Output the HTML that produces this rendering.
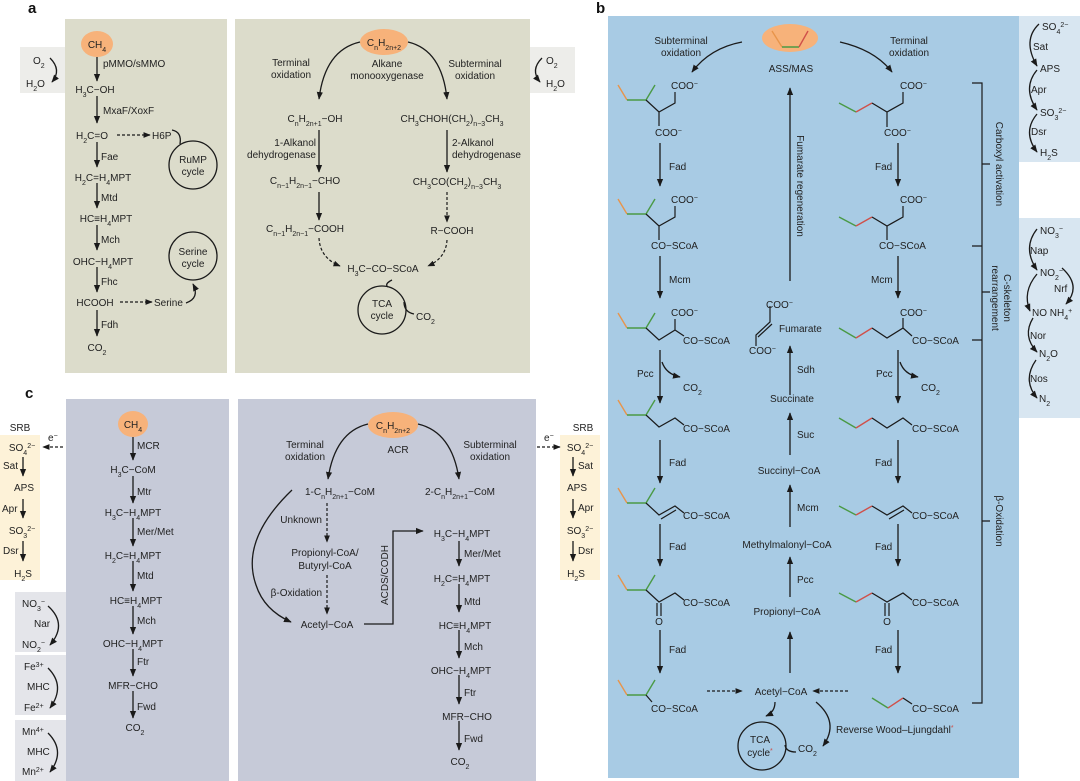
<!DOCTYPE html>
<html><head><meta charset="utf-8"><style>
html,body{margin:0;padding:0;background:#fff}
svg{display:block}
text{font-family:"Liberation Sans",Arial,sans-serif;font-size:10px;fill:#222}
.b{font-weight:bold;font-size:15px;fill:#111}
.sb{font-size:7px;baseline-shift:sub}
.sp{font-size:7px;baseline-shift:super}
.m{text-anchor:middle}
.e{text-anchor:end}
.l{stroke:#1a1a1a;stroke-width:1.3;fill:none}
.d{stroke:#1a1a1a;stroke-width:1.2;fill:none;stroke-dasharray:3,2}
.o{stroke:#e8944a;stroke-width:1.4;fill:none}
.g{stroke:#4a9a45;stroke-width:1.4;fill:none}
.r{stroke:#d0504a;stroke-width:1.4;fill:none}
.k{stroke:#1a1a1a;stroke-width:1.2;fill:none}
</style></head><body>
<svg width="1080" height="781" viewBox="0 0 1080 781" xmlns="http://www.w3.org/2000/svg">
<defs>
<marker id="a" viewBox="0 0 10 10" refX="9" refY="5" markerWidth="6" markerHeight="6" orient="auto-start-reverse"><path d="M0,1 L10,5 L0,9 z" fill="#1a1a1a"/></marker>
</defs>

<!-- PANEL A -->
<text class="b" x="28" y="13">a</text>
<rect x="20" y="47" width="45" height="46" fill="#ededea"/>
<rect x="530" y="47" width="45" height="46" fill="#ededea"/>
<rect x="65" y="19" width="162" height="354" fill="#dcdccb"/>
<rect x="235" y="19" width="295" height="354" fill="#dcdccb"/>
<text x="33" y="64">O<tspan class="sb">2</tspan></text>
<text x="26" y="87">H<tspan class="sb">2</tspan>O</text>
<path class="l" d="M50,58 Q62,70 52,82" marker-end="url(#a)"/>
<text x="546" y="64">O<tspan class="sb">2</tspan></text>
<text x="546" y="87">H<tspan class="sb">2</tspan>O</text>
<path class="l" d="M542,58 Q530,70 540,82" marker-end="url(#a)"/>

<ellipse cx="97" cy="44" rx="16" ry="13" fill="#f7b27a"/>
<text class="m" x="97" y="48">CH<tspan class="sb">4</tspan></text>
<g class="l">
<path d="M97,57 V81" marker-end="url(#a)"/>
<path d="M97,96 V123" marker-end="url(#a)"/>
<path d="M97,142 V167" marker-end="url(#a)"/>
<path d="M97,183 V208" marker-end="url(#a)"/>
<path d="M97,225 V250" marker-end="url(#a)"/>
<path d="M97,267 V292" marker-end="url(#a)"/>
<path d="M97,310 V336" marker-end="url(#a)"/>
</g>
<text x="103" y="67">pMMO/sMMO</text>
<text class="m" x="95" y="93">H<tspan class="sb">3</tspan>C−OH</text>
<text x="103" y="114">MxaF/XoxF</text>
<text class="m" x="92" y="139">H<tspan class="sb">2</tspan>C=O</text>
<path class="d" d="M117,135 H150" marker-end="url(#a)"/>
<text x="152" y="139">H6P</text>
<path class="l" d="M172,130 Q182,132 180,144"/>
<circle cx="193" cy="165" r="24" class="l"/>
<text class="m" x="193" y="163">RuMP</text>
<text class="m" x="193" y="175">cycle</text>
<text x="101" y="160">Fae</text>
<text class="m" x="103" y="181">H<tspan class="sb">2</tspan>C=H<tspan class="sb">4</tspan>MPT</text>
<text x="101" y="201">Mtd</text>
<text class="m" x="106" y="222">HC≡H<tspan class="sb">4</tspan>MPT</text>
<text x="101" y="243">Mch</text>
<text class="m" x="103" y="265">OHC−H<tspan class="sb">4</tspan>MPT</text>
<circle cx="193" cy="256" r="24" class="l"/>
<text class="m" x="193" y="255">Serine</text>
<text class="m" x="193" y="267">cycle</text>
<text x="101" y="285">Fhc</text>
<text class="m" x="95" y="306">HCOOH</text>
<path class="d" d="M120,302 H152" marker-end="url(#a)"/>
<text x="154" y="306">Serine</text>
<path class="l" d="M186,303 Q200,298 193,284" marker-end="url(#a)"/>
<text x="101" y="328">Fdh</text>
<text class="m" x="97" y="351">CO<tspan class="sb">2</tspan></text>

<ellipse cx="384" cy="42" rx="24" ry="13" fill="#f7b27a"/>
<text class="m" x="384" y="46">C<tspan class="sb">n</tspan>H<tspan class="sb">2n+2</tspan></text>
<text class="m" x="291" y="66">Terminal</text>
<text class="m" x="291" y="78">oxidation</text>
<text class="m" x="387" y="67">Alkane</text>
<text class="m" x="387" y="79">monooxygenase</text>
<text class="m" x="475" y="67">Subterminal</text>
<text class="m" x="475" y="79">oxidation</text>
<path class="l" d="M360,42 Q325,50 319,99" marker-end="url(#a)"/>
<path class="l" d="M408,42 Q442,50 447,99" marker-end="url(#a)"/>
<text class="m" x="315" y="122">C<tspan class="sb">n</tspan>H<tspan class="sb">2n+1</tspan>−OH</text>
<text class="m" x="452" y="122">CH<tspan class="sb">3</tspan>CHOH(CH<tspan class="sb">2</tspan>)<tspan class="sb">n−3</tspan>CH<tspan class="sb">3</tspan></text>
<text class="e" x="316" y="146">1-Alkanol</text>
<text class="e" x="316" y="158">dehydrogenase</text>
<path class="l" d="M319,130 V172" marker-end="url(#a)"/>
<text x="452" y="146">2-Alkanol</text>
<text x="452" y="158">dehydrogenase</text>
<path class="l" d="M447,130 V172" marker-end="url(#a)"/>
<text class="m" x="305" y="184">C<tspan class="sb">n−1</tspan>H<tspan class="sb">2n−1</tspan>−CHO</text>
<text class="m" x="457" y="185">CH<tspan class="sb">3</tspan>CO(CH<tspan class="sb">2</tspan>)<tspan class="sb">n−3</tspan>CH<tspan class="sb">3</tspan></text>
<path class="l" d="M319,192 V220" marker-end="url(#a)"/>
<path class="d" d="M447,192 V222" marker-end="url(#a)"/>
<text class="m" x="305" y="232">C<tspan class="sb">n−1</tspan>H<tspan class="sb">2n−1</tspan>−COOH</text>
<text class="m" x="452" y="234">R−COOH</text>
<path class="d" d="M319,238 Q320,258 340,266" marker-end="url(#a)"/>
<path class="d" d="M447,240 Q446,258 428,266" marker-end="url(#a)"/>
<text class="m" x="383" y="272">H<tspan class="sb">3</tspan>C−CO−SCoA</text>
<circle cx="382" cy="310" r="24" class="l"/>
<text class="m" x="382" y="307">TCA</text>
<text class="m" x="382" y="319">cycle</text>
<path class="l" d="M392,280 Q384,284 388,287"/>
<path class="l" d="M404,302 Q404,312 414,314"/>
<text x="416" y="320">CO<tspan class="sb">2</tspan></text>

<!-- PANEL C -->
<text class="b" x="25" y="398">c</text>
<rect x="0" y="435" width="40" height="145" fill="#fdf2d8"/>
<rect x="560" y="435" width="40" height="145" fill="#fdf2d8"/>
<rect x="15" y="592" width="51" height="60" fill="#e4e5ea"/>
<rect x="15" y="655" width="51" height="60" fill="#e4e5ea"/>
<rect x="15" y="720" width="51" height="61" fill="#e4e5ea"/>
<rect x="66" y="399" width="163" height="382" fill="#c6cad8"/>
<rect x="238" y="399" width="298" height="382" fill="#c6cad8"/>

<text class="m" x="20" y="431">SRB</text>
<text class="m" x="22" y="451">SO<tspan class="sb">4</tspan><tspan class="sp">2−</tspan></text>
<text x="48" y="441">e<tspan class="sp">−</tspan></text>
<path class="d" d="M63,447 H43" marker-end="url(#a)"/>
<text x="3" y="469">Sat</text>
<path class="l" d="M23,457 V476" marker-end="url(#a)"/>
<text class="m" x="24" y="491">APS</text>
<text x="2" y="512">Apr</text>
<path class="l" d="M23,499 V518" marker-end="url(#a)"/>
<text class="m" x="22" y="534">SO<tspan class="sb">3</tspan><tspan class="sp">2−</tspan></text>
<text x="3" y="554">Dsr</text>
<path class="l" d="M23,541 V561" marker-end="url(#a)"/>
<text class="m" x="23" y="577">H<tspan class="sb">2</tspan>S</text>

<text x="22" y="607">NO<tspan class="sb">3</tspan><tspan class="sp">−</tspan></text>
<text x="34" y="627">Nar</text>
<text x="22" y="648">NO<tspan class="sb">2</tspan><tspan class="sp">−</tspan></text>
<path class="l" d="M48,606 Q68,624 50,645" marker-end="url(#a)"/>
<text x="24" y="670">Fe<tspan class="sp">3+</tspan></text>
<text x="27" y="690">MHC</text>
<text x="24" y="711">Fe<tspan class="sp">2+</tspan></text>
<path class="l" d="M48,668 Q66,686 50,708" marker-end="url(#a)"/>
<text x="22" y="735">Mn<tspan class="sp">4+</tspan></text>
<text x="27" y="755">MHC</text>
<text x="22" y="775">Mn<tspan class="sp">2+</tspan></text>
<path class="l" d="M48,733 Q66,751 50,772" marker-end="url(#a)"/>

<ellipse cx="133" cy="424" rx="15" ry="13" fill="#f7b27a"/>
<text class="m" x="133" y="428">CH<tspan class="sb">4</tspan></text>
<g class="l">
<path d="M133,437 V460" marker-end="url(#a)"/>
<path d="M133,476 V503" marker-end="url(#a)"/>
<path d="M133,518 V546" marker-end="url(#a)"/>
<path d="M133,561 V591" marker-end="url(#a)"/>
<path d="M133,606 V634" marker-end="url(#a)"/>
<path d="M133,649 V676" marker-end="url(#a)"/>
<path d="M133,691 V718" marker-end="url(#a)"/>
</g>
<text x="137" y="449">MCR</text>
<text class="m" x="133" y="473">H<tspan class="sb">3</tspan>C−CoM</text>
<text x="137" y="495">Mtr</text>
<text class="m" x="133" y="516">H<tspan class="sb">3</tspan>C−H<tspan class="sb">4</tspan>MPT</text>
<text x="137" y="535">Mer/Met</text>
<text class="m" x="133" y="559">H<tspan class="sb">2</tspan>C=H<tspan class="sb">4</tspan>MPT</text>
<text x="137" y="579">Mtd</text>
<text class="m" x="136" y="604">HC≡H<tspan class="sb">4</tspan>MPT</text>
<text x="137" y="624">Mch</text>
<text class="m" x="133" y="647">OHC−H<tspan class="sb">4</tspan>MPT</text>
<text x="137" y="665">Ftr</text>
<text class="m" x="133" y="689">MFR−CHO</text>
<text x="137" y="710">Fwd</text>
<text class="m" x="135" y="731">CO<tspan class="sb">2</tspan></text>

<ellipse cx="393" cy="425" rx="25" ry="13" fill="#f7b27a"/>
<text class="m" x="393" y="429">C<tspan class="sb">n</tspan>H<tspan class="sb">2n+2</tspan></text>
<text class="m" x="305" y="448">Terminal</text>
<text class="m" x="305" y="460">oxidation</text>
<text class="m" x="398" y="453">ACR</text>
<text class="m" x="490" y="448">Subterminal</text>
<text class="m" x="490" y="460">oxidation</text>
<path class="l" d="M368,424 Q335,432 328,479" marker-end="url(#a)"/>
<path class="l" d="M418,424 Q452,432 459,479" marker-end="url(#a)"/>
<text class="m" x="340" y="495">1-C<tspan class="sb">n</tspan>H<tspan class="sb">2n+1</tspan>−CoM</text>
<text class="m" x="460" y="495">2-C<tspan class="sb">n</tspan>H<tspan class="sb">2n+1</tspan>−CoM</text>
<text class="e" x="322" y="523">Unknown</text>
<path class="d" d="M327,503 V542" marker-end="url(#a)"/>
<text class="m" x="325" y="556">Propionyl-CoA/</text>
<text class="m" x="325" y="569">Butyryl-CoA</text>
<text class="e" x="322" y="596">β-Oxidation</text>
<path class="d" d="M327,575 V614" marker-end="url(#a)"/>
<text class="m" x="327" y="628">Acetyl−CoA</text>
<path class="l" d="M292,490 Q240,540 256,585 Q264,610 291,622" marker-end="url(#a)"/>
<path class="l" d="M364,624 H393 V531 H423" marker-end="url(#a)"/>
<text class="m" transform="translate(388,575) rotate(-90)">ACDS/CODH</text>
<g class="l">
<path d="M459,541 V566" marker-end="url(#a)"/>
<path d="M459,584 V612" marker-end="url(#a)"/>
<path d="M459,630 V658" marker-end="url(#a)"/>
<path d="M459,675 V704" marker-end="url(#a)"/>
<path d="M459,721 V750" marker-end="url(#a)"/>
</g>
<text class="m" x="462" y="537">H<tspan class="sb">3</tspan>C−H<tspan class="sb">4</tspan>MPT</text>
<text x="464" y="557">Mer/Met</text>
<text class="m" x="462" y="582">H<tspan class="sb">2</tspan>C=H<tspan class="sb">4</tspan>MPT</text>
<text x="464" y="605">Mtd</text>
<text class="m" x="465" y="629">HC≡H<tspan class="sb">4</tspan>MPT</text>
<text x="464" y="650">Mch</text>
<text class="m" x="461" y="674">OHC−H<tspan class="sb">4</tspan>MPT</text>
<text x="464" y="696">Ftr</text>
<text class="m" x="467" y="720">MFR−CHO</text>
<text x="464" y="742">Fwd</text>
<text class="m" x="460" y="765">CO<tspan class="sb">2</tspan></text>

<text class="m" x="583" y="431">SRB</text>
<path class="d" d="M537,447 H560" marker-end="url(#a)"/>
<text x="544" y="441">e<tspan class="sp">−</tspan></text>
<text class="m" x="580" y="451">SO<tspan class="sb">4</tspan><tspan class="sp">2−</tspan></text>
<path class="l" d="M573,457 V476" marker-end="url(#a)"/>
<text x="578" y="469">Sat</text>
<text class="m" x="577" y="491">APS</text>
<path class="l" d="M573,499 V518" marker-end="url(#a)"/>
<text x="578" y="511">Apr</text>
<text class="m" x="580" y="534">SO<tspan class="sb">3</tspan><tspan class="sp">2−</tspan></text>
<path class="l" d="M573,541 V561" marker-end="url(#a)"/>
<text x="578" y="554">Dsr</text>
<text class="m" x="576" y="577">H<tspan class="sb">2</tspan>S</text>

<!-- PANEL B -->
<text class="b" x="596" y="13">b</text>
<rect x="608" y="16" width="411" height="762" fill="#a8cbe4"/>
<rect x="1019" y="16" width="61" height="146" fill="#d8e6f1"/>
<rect x="1019" y="218" width="61" height="200" fill="#d8e6f1"/>

<ellipse cx="790" cy="38" rx="28" ry="14" fill="#f7b27a"/>
<path class="o" d="M772,31 L782,47"/><path class="g" d="M782,47 H799"/><path class="r" d="M799,47 L808,31"/>
<text class="m" x="681" y="44">Subterminal</text>
<text class="m" x="681" y="56">oxidation</text>
<path class="l" d="M742,42 Q710,48 692,72" marker-end="url(#a)"/>
<text class="m" x="791" y="72">ASS/MAS</text>
<text class="m" x="909" y="44">Terminal</text>
<text class="m" x="909" y="56">oxidation</text>
<path class="l" d="M840,42 Q875,50 892,72" marker-end="url(#a)"/>

<!-- left column molecules -->
<g>
<path class="o" d="M618,85 L627,100"/><path class="g" d="M627,100 H646 L655,85"/>
<path class="k" d="M646,100 L659,112 L675,103 V92 M659,112 V126"/>
<text x="671" y="89">COO<tspan class="sp">−</tspan></text>
<text x="655" y="136">COO<tspan class="sp">−</tspan></text>
</g>
<g>
<path class="o" d="M618,199 L627,214"/><path class="g" d="M627,214 H646 L655,199"/>
<path class="k" d="M646,214 L659,226 L675,217 V206 M659,226 V240"/>
<text x="671" y="203">COO<tspan class="sp">−</tspan></text>
<text x="651" y="249">CO−SCoA</text>
</g>
<g>
<path class="o" d="M618,313 L627,328"/><path class="g" d="M627,328 H646 L655,313"/>
<path class="k" d="M646,328 L659,340 L675,330 V319 M675,330 L684,336"/>
<text x="671" y="316">COO<tspan class="sp">−</tspan></text>
<text x="683" y="344">CO−SCoA</text>
</g>
<g>
<path class="o" d="M618,400 L627,415"/><path class="g" d="M627,415 H646 L655,400"/>
<path class="k" d="M646,415 L659,427 L675,418 L684,425"/>
<text x="683" y="432">CO−SCoA</text>
</g>
<g>
<path class="o" d="M618,488 L627,503"/><path class="g" d="M627,503 H646 L655,488"/>
<path class="k" d="M646,503 L659,515 L675,506 L684,513 M661,519 L676,510"/>
<text x="683" y="519">CO−SCoA</text>
</g>
<g>
<path class="o" d="M618,575 L627,590"/><path class="g" d="M627,590 H646 L655,575"/>
<path class="k" d="M646,590 L659,602 L675,593 L684,600 M657,603 V616 M661,603 V616"/>
<text x="683" y="606">CO−SCoA</text>
<text class="m" x="659" y="625">O</text>
</g>
<g>
<path class="o" d="M618,680 L627,695"/><path class="g" d="M627,695 H646 L655,680"/>
<path class="k" d="M646,695 L652,702"/>
<text x="651" y="712">CO−SCoA</text>
</g>
<g class="l">
<path d="M660,143 V186" marker-end="url(#a)"/>
<path d="M660,256 V298" marker-end="url(#a)"/>
<path d="M660,350 V403" marker-end="url(#a)"/>
<path d="M660,440 V483" marker-end="url(#a)"/>
<path d="M660,524 V566" marker-end="url(#a)"/>
<path d="M660,630 V673" marker-end="url(#a)"/>
<path d="M662,362 Q666,374 680,377" marker-end="url(#a)"/>
</g>
<text x="669" y="170">Fad</text>
<text x="669" y="283">Mcm</text>
<text x="637" y="377">Pcc</text>
<text x="683" y="391">CO<tspan class="sb">2</tspan></text>
<text x="669" y="466">Fad</text>
<text x="669" y="550">Fad</text>
<text x="669" y="653">Fad</text>

<!-- right column molecules -->
<g>
<path class="g" d="M839,103 L856,112"/><path class="r" d="M856,112 L872,103"/>
<path class="k" d="M872,103 L887,112 L903,103 V92 M887,112 V127"/>
<text x="900" y="89">COO<tspan class="sp">−</tspan></text>
<text x="884" y="136">COO<tspan class="sp">−</tspan></text>
</g>
<g>
<path class="g" d="M839,217 L856,226"/><path class="r" d="M856,226 L872,217"/>
<path class="k" d="M872,217 L887,226 L903,217 V206 M887,226 V240"/>
<text x="900" y="203">COO<tspan class="sp">−</tspan></text>
<text x="879" y="249">CO−SCoA</text>
</g>
<g>
<path class="g" d="M839,328 L856,338"/><path class="r" d="M856,338 L872,328"/>
<path class="k" d="M872,328 L887,338 L903,328 V318 M903,328 L912,336"/>
<text x="900" y="316">COO<tspan class="sp">−</tspan></text>
<text x="912" y="344">CO−SCoA</text>
</g>
<g>
<path class="g" d="M839,418 L856,428"/><path class="r" d="M856,428 L872,418"/>
<path class="k" d="M872,418 L887,428 L903,418 L912,425"/>
<text x="912" y="432">CO−SCoA</text>
</g>
<g>
<path class="g" d="M839,506 L856,515"/><path class="r" d="M856,515 L872,506"/>
<path class="k" d="M872,506 L887,515 L903,506 L912,513 M889,519 L904,510"/>
<text x="912" y="519">CO−SCoA</text>
</g>
<g>
<path class="g" d="M839,593 L856,602"/><path class="r" d="M856,602 L872,593"/>
<path class="k" d="M872,593 L887,602 L903,593 L912,600 M885,603 V616 M889,603 V616"/>
<text x="912" y="606">CO−SCoA</text>
<text class="m" x="887" y="625">O</text>
</g>
<g>
<path class="g" d="M872,698 L888,708"/><path class="r" d="M888,708 L903,698"/>
<path class="k" d="M903,698 L912,704"/>
<text x="912" y="712">CO−SCoA</text>
</g>
<g class="l">
<path d="M898,143 V186" marker-end="url(#a)"/>
<path d="M898,256 V298" marker-end="url(#a)"/>
<path d="M898,350 V403" marker-end="url(#a)"/>
<path d="M898,440 V483" marker-end="url(#a)"/>
<path d="M898,524 V566" marker-end="url(#a)"/>
<path d="M898,630 V673" marker-end="url(#a)"/>
<path d="M900,362 Q904,374 918,377" marker-end="url(#a)"/>
</g>
<text x="875" y="170">Fad</text>
<text x="871" y="283">Mcm</text>
<text x="876" y="377">Pcc</text>
<text x="921" y="391">CO<tspan class="sb">2</tspan></text>
<text x="875" y="466">Fad</text>
<text x="875" y="550">Fad</text>
<text x="875" y="653">Fad</text>

<!-- bracket -->
<path class="k" d="M972,83 H982 V703 H972 M972,246 H982 M972,340 H982 M982,164 H990 M982,292 H990 M982,521 H990" stroke-width="1.4"/>
<text class="m" transform="translate(996,164) rotate(90)">Carboxyl activation</text>
<text class="m" transform="translate(1004,298) rotate(90)">C-skeleton</text>
<text class="m" transform="translate(992,298) rotate(90)">rearrangement</text>
<text class="m" transform="translate(996,521) rotate(90)">β-Oxidation</text>

<!-- middle column -->
<path class="l" d="M790,281 V88" marker-end="url(#a)"/>
<text class="m" transform="translate(797,186) rotate(90)">Fumarate regeneration</text>
<path class="k" d="M770,306 V322 L756,335 V346 M772,324 L758,337"/>
<text x="766" y="308">COO<tspan class="sp">−</tspan></text>
<text x="749" y="354">COO<tspan class="sp">−</tspan></text>
<text x="779" y="332">Fumarate</text>
<path class="l" d="M790,395 V346" marker-end="url(#a)"/>
<text x="797" y="373">Sdh</text>
<text class="m" x="792" y="402">Succinate</text>
<path class="l" d="M790,455 V413" marker-end="url(#a)"/>
<text x="797" y="438">Suc</text>
<text class="m" x="789" y="474">Succinyl−CoA</text>
<path class="l" d="M790,527 V485" marker-end="url(#a)"/>
<text x="797" y="511">Mcm</text>
<text class="m" x="787" y="548">Methylmalonyl−CoA</text>
<path class="l" d="M790,597 V557" marker-end="url(#a)"/>
<text x="797" y="583">Pcc</text>
<text class="m" x="787" y="615">Propionyl−CoA</text>
<path class="l" d="M790,673 V632" marker-end="url(#a)"/>
<path class="d" d="M707,691 H742" marker-end="url(#a)"/>
<text class="m" x="781" y="695">Acetyl−CoA</text>
<path class="d" d="M848,691 H813" marker-end="url(#a)"/>
<circle cx="762" cy="746" r="24" class="l"/>
<text class="m" x="760" y="743">TCA</text>
<text class="m" x="760" y="756">cycle<tspan fill="#d0504a" class="sp">*</tspan></text>
<path class="l" d="M775,702 Q775,712 766,716" marker-end="url(#a)"/>
<path class="l" d="M785,745 Q786,752 796,752"/>
<text x="798" y="752">CO<tspan class="sb">2</tspan></text>
<path class="l" d="M816,702 Q840,722 823,746" marker-end="url(#a)"/>
<text x="836" y="733">Reverse Wood–Ljungdahl<tspan fill="#d0504a" class="sp">*</tspan></text>

<!-- side boxes b -->
<text x="1042" y="30">SO<tspan class="sb">4</tspan><tspan class="sp">2−</tspan></text>
<text x="1033" y="50">Sat</text>
<text x="1040" y="72">APS</text>
<text x="1031" y="93">Apr</text>
<text x="1040" y="116">SO<tspan class="sb">3</tspan><tspan class="sp">2−</tspan></text>
<text x="1031" y="135">Dsr</text>
<text x="1040" y="156">H<tspan class="sb">2</tspan>S</text>
<path class="l" d="M1039,24 Q1022,40 1037,66" marker-end="url(#a)"/>
<path class="l" d="M1037,70 Q1022,88 1037,110" marker-end="url(#a)"/>
<path class="l" d="M1037,114 Q1022,132 1037,152" marker-end="url(#a)"/>
<text x="1040" y="234">NO<tspan class="sb">3</tspan><tspan class="sp">−</tspan></text>
<text x="1030" y="254">Nap</text>
<text x="1040" y="276">NO<tspan class="sb">2</tspan><tspan class="sp">−</tspan></text>
<text x="1054" y="292">Nrf</text>
<text x="1032" y="316">NO NH<tspan class="sb">4</tspan><tspan class="sp">+</tspan></text>
<text x="1030" y="339">Nor</text>
<text x="1039" y="357">N<tspan class="sb">2</tspan>O</text>
<text x="1030" y="382">Nos</text>
<text x="1039" y="402">N<tspan class="sb">2</tspan></text>
<path class="l" d="M1037,229 Q1022,248 1037,270" marker-end="url(#a)"/>
<path class="l" d="M1062,268 Q1082,286 1066,304" marker-end="url(#a)"/>
<path class="l" d="M1037,274 Q1022,292 1030,311" marker-end="url(#a)"/>
<path class="l" d="M1033,318 Q1022,336 1037,352" marker-end="url(#a)"/>
<path class="l" d="M1036,360 Q1022,380 1037,398" marker-end="url(#a)"/>
</svg>
</body></html>
